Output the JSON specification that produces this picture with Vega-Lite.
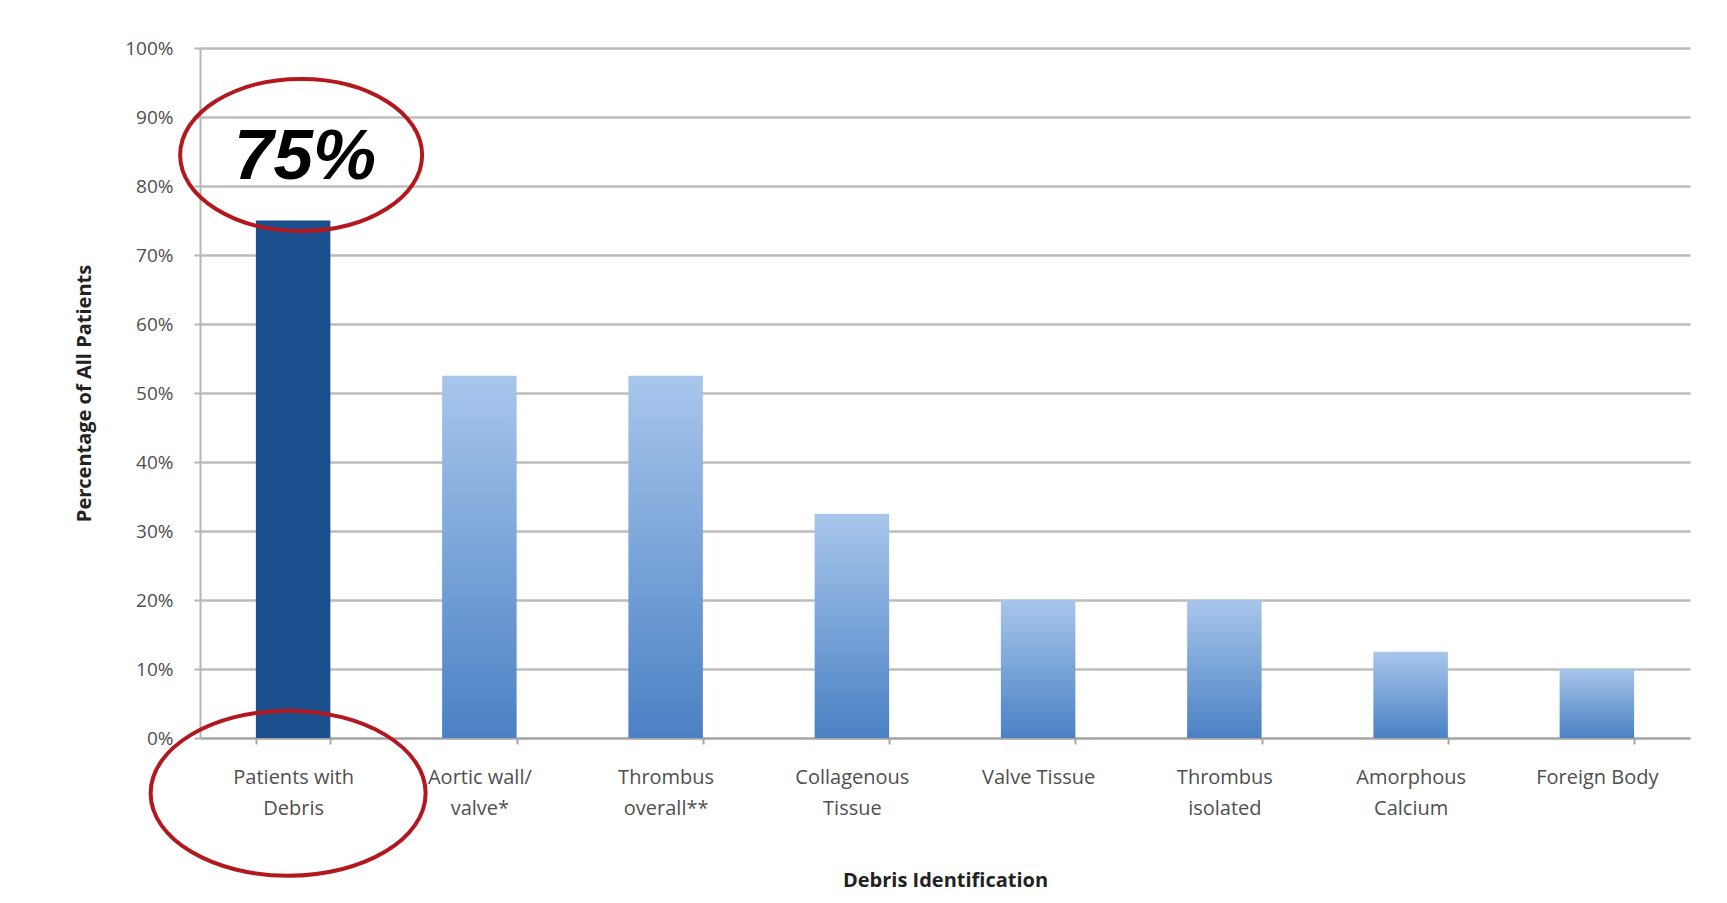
{
  "$schema": "https://vega.github.io/schema/vega-lite/v6.json",
  "width": 1490,
  "height": 690,
  "autosize": {"type": "none"},
  "padding": {"left": 200, "top": 48, "right": 37, "bottom": 165},
  "background": "#ffffff",
  "config": {"view": {"stroke": null}, "font": "Open Sans"},
  "data": {
    "values": [
      {"category": "Patients with|Debris", "pct": 0.75, "group": "total"},
      {"category": "Aortic wall/|valve*", "pct": 0.525, "group": "type"},
      {"category": "Thrombus|overall**", "pct": 0.525, "group": "type"},
      {"category": "Collagenous|Tissue", "pct": 0.325, "group": "type"},
      {"category": "Valve Tissue", "pct": 0.2, "group": "type"},
      {"category": "Thrombus|isolated", "pct": 0.2, "group": "type"},
      {"category": "Amorphous|Calcium", "pct": 0.125, "group": "type"},
      {"category": "Foreign Body", "pct": 0.1, "group": "type"}
    ]
  },
  "encoding": {
    "x": {
      "field": "category",
      "type": "nominal",
      "sort": null,
      "scale": {
        "domain": ["Patients with|Debris", "Aortic wall/|valve*", "Thrombus|overall**", "Collagenous|Tissue", "Valve Tissue", "Thrombus|isolated", "Amorphous|Calcium", "Foreign Body"],
        "paddingInner": 0.6,
        "paddingOuter": 0.3
      },
      "axis": {
        "title": "Debris Identification",
        "titleFontSize": 20,
        "titleFontWeight": "bold",
        "titleColor": "#222222",
        "titlePadding": 52,
        "labelAngle": 0,
        "labelExpr": "split(datum.label, '|')",
        "labelFontSize": 20,
        "labelLineHeight": 31,
        "labelColor": "#4f4f4f",
        "labelPadding": 23,
        "tickBand": "extent",
        "tickSize": 6,
        "tickColor": "#a6a6a6",
        "tickWidth": 2,
        "domainColor": "#a6a6a6",
        "domainWidth": 2,
        "grid": false
      }
    },
    "y": {
      "field": "pct",
      "type": "quantitative",
      "scale": {"domain": [0, 1], "nice": false},
      "axis": {
        "title": "Percentage of All Patients",
        "titleFontSize": 20,
        "titleFontWeight": "bold",
        "titleColor": "#222222",
        "titlePadding": 30,
        "values": [0, 0.1, 0.2, 0.3, 0.4, 0.5, 0.6, 0.7, 0.8, 0.9, 1],
        "format": ".0%",
        "labelFontSize": 19,
        "labelColor": "#4f4f4f",
        "labelPadding": 21,
        "tickSize": 6,
        "tickColor": "#b5b5b5",
        "tickWidth": 2,
        "domainColor": "#b5b5b5",
        "domainWidth": 2,
        "grid": true,
        "gridColor": "#bdbdbd",
        "gridWidth": 2.5
      }
    }
  },
  "layer": [
    {
      "transform": [{"filter": "datum.group === 'total'"}],
      "mark": {"type": "bar", "color": "#1c4f8e"}
    },
    {
      "transform": [{"filter": "datum.group !== 'total'"}],
      "mark": {
        "type": "bar",
        "color": {
          "gradient": "linear",
          "x1": 0, "y1": 0, "x2": 0, "y2": 1,
          "stops": [
            {"offset": 0, "color": "#a8c6eb"},
            {"offset": 1, "color": "#4a81c4"}
          ]
        }
      }
    },
    {
      "data": {"values": [{"category": "Patients with|Debris", "pct": 0.84, "label": "75%"}]},
      "mark": {"type": "text", "font": "Liberation Sans", "fontSize": 71, "fontWeight": "bold", "fontStyle": "italic", "color": "#000000", "baseline": "middle", "align": "center", "xOffset": 12},
      "encoding": {"text": {"field": "label"}}
    },
    {
      "data": {"values": [{"category": "Patients with|Debris", "pct": 0.845}]},
      "mark": {"type": "point", "shape": "M -1 0 A 1 0.628 0 1 1 1 0 A 1 0.628 0 1 1 -1 0 Z", "size": 58564, "filled": false, "stroke": "#b3181f", "strokeWidth": 4, "opacity": 1, "xOffset": 8}
    },
    {
      "data": {"values": [{"category": "Patients with|Debris", "pct": -0.08}]},
      "mark": {"type": "point", "shape": "M -1 0 A 1 0.6 0 1 1 1 0 A 1 0.6 0 1 1 -1 0 Z", "size": 75625, "filled": false, "stroke": "#b3181f", "strokeWidth": 4, "opacity": 1, "xOffset": -5}
    }
  ]
}
